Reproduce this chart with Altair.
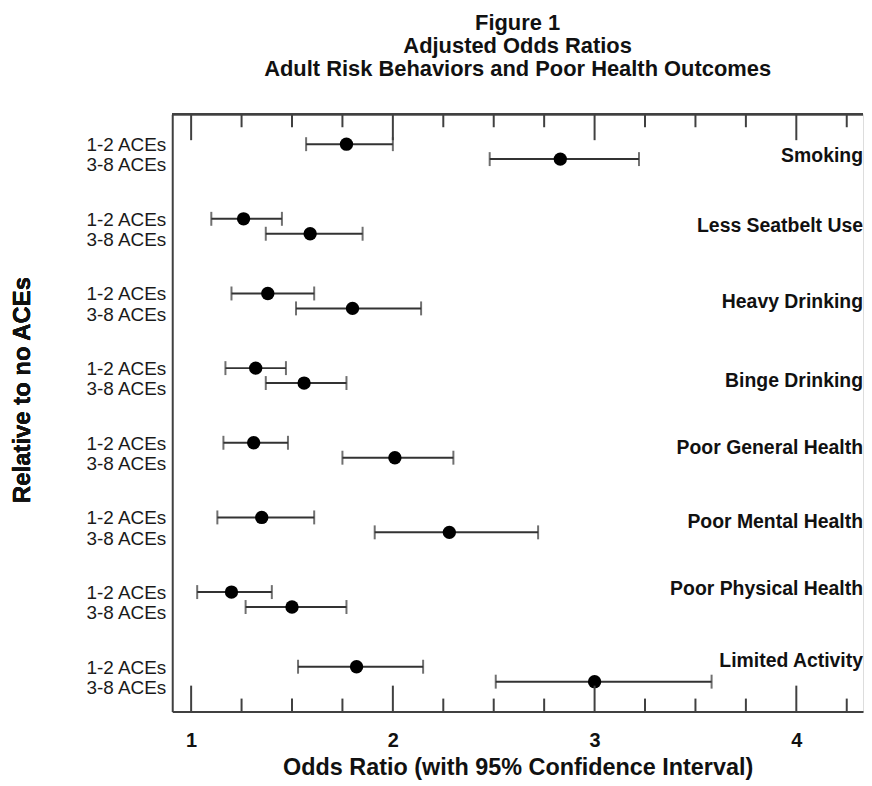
import altair as alt
import pandas as pd

# ---- data ----
outcomes = ["Smoking", "Less Seatbelt Use", "Heavy Drinking", "Binge Drinking",
            "Poor General Health", "Poor Mental Health", "Poor Physical Health",
            "Limited Activity"]
groups = ["1-2 ACEs", "3-8 ACEs"]
or_12 = [1.77, 1.26, 1.38, 1.32, 1.31, 1.35, 1.20, 1.82]
lo_12 = [1.57, 1.10, 1.20, 1.17, 1.16, 1.13, 1.03, 1.53]
hi_12 = [2.00, 1.45, 1.61, 1.47, 1.48, 1.61, 1.40, 2.15]
or_38 = [2.83, 1.59, 1.80, 1.56, 2.01, 2.28, 1.50, 3.00]
lo_38 = [2.48, 1.37, 1.52, 1.37, 1.75, 1.91, 1.27, 2.51]
hi_38 = [3.22, 1.85, 2.14, 1.77, 2.30, 2.72, 1.77, 3.58]
major_ticks = [1, 2, 3, 4]
minor_ticks = [1.25, 1.5, 1.75, 2.25, 2.5, 2.75, 3.25, 3.5, 3.75, 4.25]

# ---- layout (not data) ----
W, H = 694, 600
FONT = "Liberation Sans"
label_offsets = [2.8, 2.45, 2.6, 2.87, 2.38, 2.33, 1.78, 1.6]   # outcome-name row within group

rows = []
for k, name in enumerate(outcomes):
    rows.append(dict(outcome=name, group=groups[0], row=5 * k + 2, lrow=5 * k + 2.07,
                     est=or_12[k], lo=lo_12[k], hi=hi_12[k]))
    rows.append(dict(outcome=name, group=groups[1], row=5 * k + 3, lrow=5 * k + 3.43,
                     est=or_38[k], lo=lo_38[k], hi=hi_38[k]))
df = pd.DataFrame(rows)
names = pd.DataFrame({"outcome": outcomes,
                      "row": [5 * k + off for k, off in enumerate(label_offsets)]})
maj = pd.DataFrame({"v": major_ticks})
mnr = pd.DataFrame({"v": minor_ticks})

xscale = alt.Scale(domain=[0.9063, 4.3306], nice=False, zero=False)
yscale = alt.Scale(domain=[0, 40], nice=False, zero=False, reverse=True)
FRAME = "#404040"
XTITLE = "Odds Ratio (with 95% Confidence Interval)"

xaxis = alt.Axis(values=major_ticks, format="d", grid=False, ticks=False, tickSize=0,
                 labelFont=FONT, labelFontSize=20, labelFontWeight="bold", labelColor="#111",
                 labelPadding=19, domainColor=FRAME, domainWidth=2,
                 title=XTITLE, titleFont=FONT,
                 titleFontSize=23.5, titleFontWeight="bold", titleColor="#111", titlePadding=5)
yaxis = alt.Axis(labels=False, ticks=False, grid=False, title="",
                 domainColor=FRAME, domainWidth=2)


def X(field):
    return alt.X(field, scale=xscale, axis=xaxis, title=XTITLE)


def Y(field):
    return alt.Y(field, scale=yscale, axis=yaxis, title="")


base = alt.Chart(df)

bars = base.mark_rule(color="#333", strokeWidth=2).encode(
    x=X("lo:Q"), x2="hi:Q", y=Y("row:Q"))
cap_lo = base.mark_tick(color="#333", orient="vertical", size=14, thickness=2).encode(
    x=X("lo:Q"), y=Y("row:Q"))
cap_hi = base.mark_tick(color="#333", orient="vertical", size=14, thickness=2).encode(
    x=X("hi:Q"), y=Y("row:Q"))
pts = base.mark_circle(color="black", opacity=1, size=180).encode(
    x=X("est:Q"), y=Y("row:Q"))

row_labels = base.mark_text(align="right", baseline="middle", font=FONT, fontSize=19,
                            color="#1a1a1a").encode(
    x=alt.value(-6), y=Y("lrow:Q"), text="group:N")

name_labels = alt.Chart(names).mark_text(align="right", baseline="middle", font=FONT,
                                         fontSize=19.5, fontWeight="bold", color="#111").encode(
    x=alt.value(W), y=Y("row:Q"), text="outcome:N")

top_border = alt.Chart(maj).mark_rule(color=FRAME, strokeWidth=2).encode(
    x=alt.value(0), x2=alt.value(W), y=alt.value(0))

maj_bot = alt.Chart(maj).mark_rule(color=FRAME, strokeWidth=2).encode(
    x=X("v:Q"), y=alt.value(H), y2=alt.value(H - 26))
maj_top = alt.Chart(maj).mark_rule(color=FRAME, strokeWidth=2).encode(
    x=X("v:Q"), y=alt.value(0), y2=alt.value(26))
mnr_bot = alt.Chart(mnr).mark_rule(color=FRAME, strokeWidth=2).encode(
    x=X("v:Q"), y=alt.value(H), y2=alt.value(H - 13))
mnr_top = alt.Chart(mnr).mark_rule(color=FRAME, strokeWidth=2).encode(
    x=X("v:Q"), y=alt.value(0), y2=alt.value(13))

ytitle = alt.Chart(maj).mark_text(angle=270, align="center", baseline="middle", font=FONT,
                                  fontSize=24, fontWeight="bold", color="#111").encode(
    x=alt.value(-150), y=alt.value(H / 2 - 23), text=alt.value("Relative to no ACEs"))

chart = alt.layer(
    bars, cap_lo, cap_hi, pts, row_labels, name_labels, top_border,
    maj_bot, maj_top, mnr_bot, mnr_top, ytitle
).properties(
    width=W, height=H,
    padding={"left": 3, "top": 2, "right": 0, "bottom": 0},
    title=alt.TitleParams(
        ["Figure 1", "Adjusted Odds Ratios", "Adult Risk Behaviors and Poor Health Outcomes"],
        font=FONT, fontSize=22, fontWeight="bold", lineHeight=23.5, color="#111",
        anchor="middle", frame="group", offset=32),
).configure_view(strokeWidth=0).configure(background="white").configure_axisX(
    labelFont=FONT, labelFontSize=20, labelFontWeight="bold", labelColor="#111",
    labelPadding=19,
)

chart.save("out.html", embed_options={"renderer": "svg", "actions": False})
